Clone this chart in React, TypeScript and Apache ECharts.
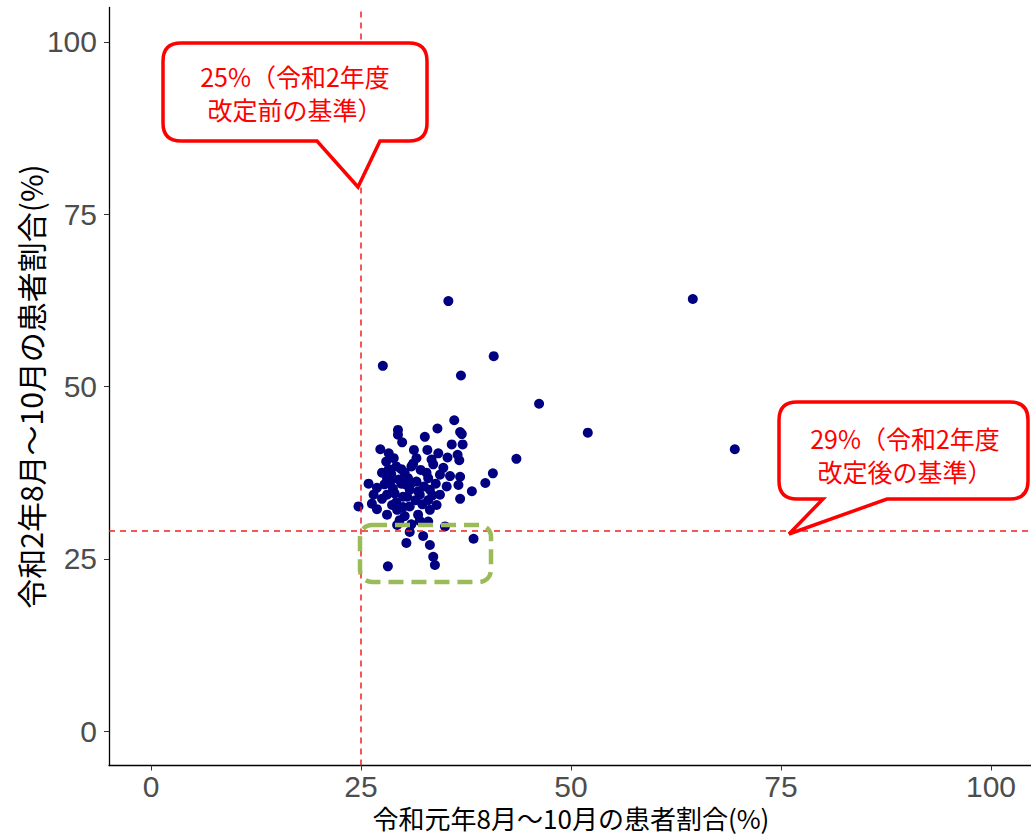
import React, { useEffect, useRef } from "react";
import * as echarts from "echarts";

// 令和元年8月～10月の患者割合(%) (x), 令和2年8月～10月の患者割合(%) (y)
const xValues: number[] = [
  35.4, 64.5, 27.6, 40.8, 36.9, 46.2, 52.0, 69.5, 43.5, 40.7,
  36.1, 34.1, 29.4, 36.8, 37.0, 29.4, 32.6, 29.9, 35.8, 37.1,
  27.3, 31.3, 32.9, 34.2, 28.3, 36.5, 28.9, 31.6, 33.4, 35.3,
  36.7, 28.0, 29.2, 31.0, 33.6, 28.3, 32.1, 34.4, 35.6, 36.8,
  28.1, 30.6, 33.0, 25.9, 28.5, 29.8, 31.6, 33.9, 39.8, 36.6,
  26.9, 28.8, 30.8, 33.2, 38.2, 34.4, 28.1, 30.0, 32.0, 36.8,
  27.5, 33.0, 26.3, 24.7, 28.7, 30.8, 34.0, 26.9, 29.3, 33.2,
  28.1, 30.2, 31.8, 29.6, 33.0, 29.3, 35.0, 30.8, 32.4, 38.4,
  30.4, 33.2, 33.6, 33.8, 28.2,
  29.5, 30.2, 31.0, 30.5, 29.0, 31.5, 32.5, 30.0, 31.2, 29.8,
  32.8, 28.6, 31.8, 30.3, 29.2, 32.3, 27.8, 33.5, 34.8, 35.2,
  31.0, 32.0, 27.5, 26.5,
];
const yValues: number[] = [
  62.4, 62.7, 53.0, 54.4, 51.6, 47.5, 43.3, 40.9, 39.5, 37.4,
  45.1, 43.9, 43.7, 43.4, 43.1, 43.0, 42.7, 41.9, 41.6, 41.6,
  40.9, 40.8, 40.8, 40.3, 40.3, 40.1, 39.6, 39.6, 39.4, 39.7,
  39.3, 39.1, 38.4, 38.4, 38.7, 38.0, 37.9, 37.2, 37.0, 36.9,
  36.7, 36.7, 36.7, 35.9, 36.2, 35.9, 36.2, 35.9, 36.0, 35.7,
  35.3, 35.2, 35.0, 35.0, 34.8, 34.3, 34.3, 34.0, 34.3, 33.7,
  33.7, 33.5, 33.0, 32.6, 32.8, 32.6, 32.8, 32.2, 32.1, 32.1,
  31.4, 31.2, 31.4, 30.6, 30.4, 29.9, 29.7, 28.9, 28.3, 27.9,
  27.3, 27.0, 25.3, 24.1, 23.9,
  36.5, 37.5, 36.0, 34.0, 34.5, 33.5, 35.5, 32.5, 38.8, 38.0,
  37.5, 37.3, 34.8, 35.8, 33.2, 32.9, 35.8, 34.2, 38.2, 35.5,
  30.0, 30.5, 37.5, 34.3,
];
const tickValues: number[] = [0, 25, 50, 75, 100];
const thresholdBefore = 25; // 令和2年度改定前の基準
const thresholdAfter = 29; // 令和2年度改定後の基準
const xTitle = "令和元年8月～10月の患者割合(%)";
const yTitle = "令和2年8月～10月の患者割合(%)";
const callout1Lines = ["25%（令和2年度", "改定前の基準）"];
const callout2Lines = ["29%（令和2年度", "改定後の基準）"];

const callout1Path =
  "M181,43 L409,43 Q427,43 427,61 L427,123 Q427,141 409,141 L380,141 L358,187 L317,141 L181,141 Q163,141 163,123 L163,61 Q163,43 181,43 Z";
const callout2Path =
  "M797,402 L1010,402 Q1028,402 1028,420 L1028,481 Q1028,499 1010,499 L887,499 L789,534 L823,499 L797,499 Q779,499 779,481 L779,420 Q779,402 797,402 Z";

echarts.graphic.registerShape("callout1", echarts.graphic.extendPath(callout1Path, {}) as any);
echarts.graphic.registerShape("callout2", echarts.graphic.extendPath(callout2Path, {}) as any);

const App: React.FC = () => {
  const ref = useRef<HTMLDivElement>(null);
  useEffect(() => {
    document.body.style.margin = "0";
    if (!ref.current) return;
    const chart = echarts.init(ref.current, undefined, { renderer: "svg" });
    const data = xValues.map((x, i) => [x, yValues[i]]);
    const tickFont = { fontFamily: "Liberation Sans, Arial, sans-serif", fontSize: 30, color: "#4D4D4D" };
    const calloutText = (lines: string[], cx: number, y0: number) =>
      lines.map((t, i) => ({
        type: "text",
        x: cx,
        y: y0 + i * 33,
        z: 20,
        style: {
          text: t,
          fill: "#FF0000",
          font: '25px "Noto Sans CJK JP", sans-serif',
          textAlign: "center",
          textVerticalAlign: "middle",
        },
      }));
    chart.setOption({
      animation: false,
      backgroundColor: "#fff",
      grid: {
        left: 109,
        top: 7.5,
        width: 924,
        bottom: 70.5,
        containLabel: false,
        outerBoundsMode: "none",
      },
      xAxis: {
        type: "value",
        min: -5,
        max: 105,
        name: xTitle,
        nameLocation: "middle",
        nameGap: 39,
        nameMoveOverlap: false,
        nameTextStyle: { fontFamily: "Noto Sans CJK JP, sans-serif", fontSize: 26, color: "#000" },
        splitLine: { show: false },
        axisLine: { onZero: false, lineStyle: { color: "#000", width: 1.3 } },
        axisTick: { show: true, length: 5, customValues: tickValues, lineStyle: { color: "#333" } },
        axisLabel: { ...tickFont, margin: 6, customValues: tickValues },
      },
      yAxis: {
        type: "value",
        min: -5,
        max: 105,
        name: yTitle,
        nameLocation: "middle",
        nameGap: 64,
        nameMoveOverlap: false,
        nameRotate: 90,
        nameTextStyle: { fontFamily: "Noto Sans CJK JP, sans-serif", fontSize: 30, color: "#000" },
        splitLine: { show: false },
        axisLine: { show: true, onZero: false, lineStyle: { color: "#000", width: 1.3 } },
        axisTick: { show: true, length: 5, customValues: tickValues, lineStyle: { color: "#333" } },
        axisLabel: { ...tickFont, margin: 12, customValues: tickValues },
      },
      series: [
        {
          type: "scatter",
          data,
          symbolSize: 10,
          itemStyle: { color: "#000080", opacity: 1 },
          markLine: {
            silent: true,
            symbol: "none",
            label: { show: false },
            lineStyle: { color: "#F02020", type: [6, 5], width: 1.5, opacity: 1 },
            emphasis: { disabled: true },
            data: [{ xAxis: thresholdBefore }, { yAxis: thresholdAfter }],
          },
        },
      ],
      graphic: [
        {
          type: "rect",
          z: 15,
          shape: { x: 360, y: 525, width: 131, height: 57, r: 12 },
          style: { fill: "none", stroke: "#9BBB59", lineWidth: 4.5, lineDash: [15, 8] },
        },
        {
          type: "callout1",
          x: 0,
          y: 0,
          z: 15,
          style: { fill: "#fff", stroke: "#FF0000", lineWidth: 3.5, lineJoin: "miter" },
        },
        {
          type: "callout2",
          x: 0,
          y: 0,
          z: 15,
          style: { fill: "#fff", stroke: "#FF0000", lineWidth: 3.5, lineJoin: "miter" },
        },
        ...calloutText(callout1Lines, 295, 76),
        ...calloutText(callout2Lines, 905, 438),
      ],
    });
    return () => chart.dispose();
  }, []);
  return <div ref={ref} style={{ width: 1031, height: 836 }} />;
};

export default App;
